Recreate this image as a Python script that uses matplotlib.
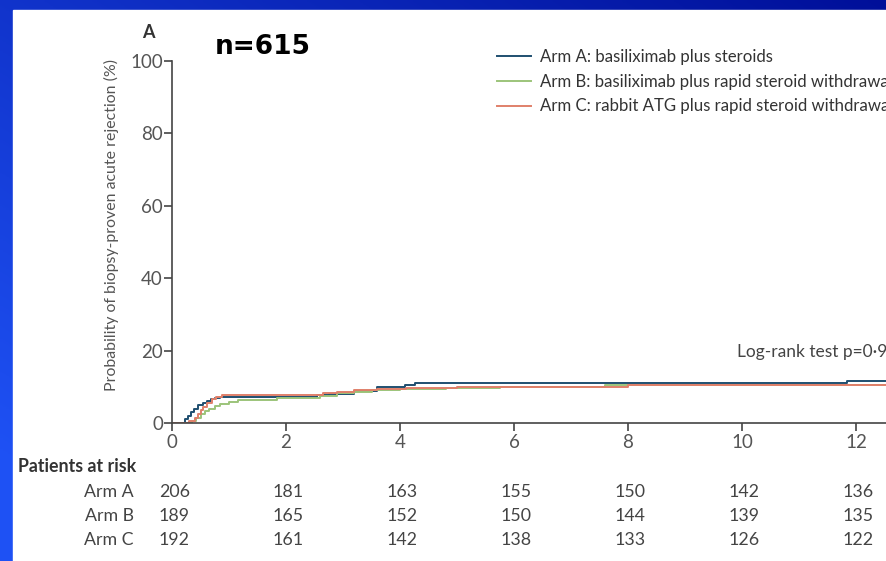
import numpy as np
import matplotlib.pyplot as plt
from matplotlib.patches import Rectangle
from matplotlib.transforms import blended_transform_factory

plt.rcParams['font.family'] = ['Lato', 'DejaVu Sans']

# cumulative incidence of biopsy-proven acute rejection (%) by month
arm_a_t = [0, 0.22, 0.28, 0.33, 0.38, 0.45, 0.55, 0.62, 0.68, 0.75, 0.84, 2.55, 2.75, 3.2, 3.6, 4.09, 4.27, 11.85, 13]
arm_a_p = [0, 1.0, 2.0, 3.0, 4.0, 5.0, 5.4, 6.0, 6.6, 7.0, 7.2, 7.7, 8.0, 8.9, 10.0, 10.5, 11.0, 11.6, 11.6]
arm_b_t = [0, 0.35, 0.42, 0.5, 0.58, 0.65, 0.75, 0.85, 1.0, 1.15, 1.85, 2.6, 2.9, 3.2, 3.5, 4.0, 4.8, 5.75, 7.6, 13]
arm_b_p = [0, 0.6, 1.5, 2.5, 3.3, 4.0, 4.6, 5.2, 5.7, 6.3, 7.0, 7.5, 8.2, 8.7, 9.0, 9.3, 9.6, 10.0, 10.5, 10.5]
arm_c_t = [0, 0.3, 0.4, 0.45, 0.5, 0.55, 0.62, 0.7, 0.78, 0.88, 2.65, 2.9, 3.2, 3.6, 4.1, 5.0, 8.0, 13]
arm_c_p = [0, 0.6, 1.5, 2.6, 3.6, 4.5, 5.5, 6.5, 7.2, 7.8, 8.2, 8.7, 9.1, 9.5, 9.8, 10.0, 10.5, 10.5]

arm_labels = ['Arm A: basiliximab plus steroids',
              'Arm B: basiliximab plus rapid steroid withdrawal',
              'Arm C: rabbit ATG plus rapid steroid withdrawal']
arm_colors = ['#1f4f70', '#9cc47a', '#e0806a']

# patients at risk
risk_times = [0, 2, 4, 6, 8, 10, 12]
risk_rows = ['Arm A', 'Arm B', 'Arm C']
risk_a = [206, 181, 163, 155, 150, 142, 136]
risk_b = [189, 165, 152, 150, 144, 139, 135]
risk_c = [192, 161, 142, 138, 133, 126, 122]

W, H = 886, 561
fig = plt.figure(figsize=(W / 100, H / 100), dpi=100)

# slide background: blue gradient with white panel on top
bg = fig.add_axes([0, 0, 1, 1], zorder=-10)
yy, xx = np.mgrid[0:1:200j, 0:1:300j]
dark = np.array([0.00, 0.06, 0.60])
light = np.array([0.12, 0.32, 0.96])
mix = np.clip(0.55 * yy + 0.55 * (1 - xx), 0, 1)[..., None]
bg.imshow(dark * (1 - mix) + light * mix, aspect='auto', extent=[0, 1, 0, 1], origin='upper')
bg.add_patch(Rectangle((13 / W, 0), 1, 1 - 10 / H, color='white'))
bg.set_xlim(0, 1)
bg.set_ylim(0, 1)
bg.axis('off')

ax_w = 13 * 57.0
ax = fig.add_axes([172 / W, 1 - 423 / H, ax_w / W, 362 / H])
ax.set_facecolor('none')

for t, p, c, lab in zip([arm_a_t, arm_b_t, arm_c_t], [arm_a_p, arm_b_p, arm_c_p], arm_colors, arm_labels):
    ax.step(t, p, where='post', color=c, lw=1.4, label=lab)

ax.set_xlim(0, 13)
ax.set_ylim(0, 100)
ax.set_xticks(risk_times)
ax.set_yticks([0, 20, 40, 60, 80, 100])
for s in ['top', 'right']:
    ax.spines[s].set_visible(False)
for s in ['left', 'bottom']:
    ax.spines[s].set_color('#444444')
    ax.spines[s].set_linewidth(1.2)
ax.tick_params(direction='out', length=6, width=1.2, color='#444444',
               labelcolor='#555555', labelsize=13.5)
ax.tick_params(axis='y', pad=0.5)
ax.tick_params(axis='x', pad=2)
ax.set_ylabel('Probability of biopsy-proven acute rejection (%)', fontsize=11.4, color='#555555')
ax.yaxis.set_label_coords((119 - 172) / ax_w, 0.547)

ax.text(9.91, 19.6, 'Log-rank test p=0·93', fontsize=12.5, color='#444444', va='center')

leg = ax.legend(loc='upper left', bbox_to_anchor=(497 / W, 1 - 49 / H), bbox_transform=fig.transFigure,
                frameon=False, fontsize=12.1, handlelength=2.0, handletextpad=0.55,
                labelspacing=0.52, borderaxespad=0, borderpad=0)
for txt in leg.get_texts():
    txt.set_color('#333333')

fig.text(148 / W, 1 - 32 / H, 'A', fontsize=13, fontweight='bold', color='#333333', ha='center', va='center')
fig.text(215 / W, 1 - 47 / H, 'n=615', fontsize=19, fontweight='bold', color='black',
         family='DejaVu Sans', ha='left', va='center')

# patients-at-risk table under the x axis
fig.text(18 / W, 1 - 467 / H, 'Patients at risk', fontsize=12.8, fontweight='bold', color='#333333', va='center')
tr = blended_transform_factory(ax.transData, fig.transFigure)
for row, name, counts in zip([492, 516, 540], risk_rows, [risk_a, risk_b, risk_c]):
    fig.text(134 / W, 1 - row / H, name, fontsize=12.8, color='#444444', ha='right', va='center')
    for t, n in zip(risk_times, counts):
        ax.text(t + 0.04, 1 - row / H, str(n), transform=tr, fontsize=12.8, color='#444444',
                ha='center', va='center', clip_on=False)

fig.savefig('out.png', dpi=100)
